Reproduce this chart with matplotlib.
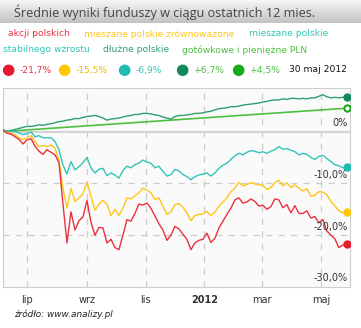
import numpy as np
import pandas as pd
import matplotlib
matplotlib.use("Agg")
import matplotlib.pyplot as plt

# sampled every ~4 days, 6 Jun 2011 .. 28 May 2012
akcje = [0.3, -0.3, -0.5, -1.0, -1.5, -2.4, -1.6, -1.4, -2.8, -3.8, -4.4, -3.5, -4.0, -4.5, -6.0,
         -14.0, -21.5, -15.5, -19.0, -17.2, -16.5, -13.3, -17.5, -20.0, -18.5, -18.6, -21.5, -20.8,
         -22.4, -22.8, -20.0, -17.0, -17.3, -15.8, -14.0, -14.2, -13.8, -14.8, -16.3, -17.8, -19.0,
         -21.0, -20.0, -18.3, -18.8, -19.8, -20.8, -22.8, -21.5, -21.0, -20.8, -19.6, -21.4, -20.6,
         -18.6, -17.3, -16.0, -14.8, -13.2, -12.8, -13.8, -13.6, -13.0, -13.5, -14.4, -14.2, -15.0,
         -14.5, -13.0, -13.2, -14.7, -14.1, -15.7, -14.3, -15.8, -15.8, -15.3, -16.7, -16.4, -17.6,
         -17.0, -19.2, -20.0, -20.7, -22.4, -21.9, -21.7]
zrownowazone = [0.3, -0.2, -0.4, -0.6, -1.2, -1.6, -1.2, -0.8, -2.0, -2.9, -2.7, -2.9, -2.6, -3.2, -5.5,
                -11.0, -14.8, -11.0, -13.5, -12.8, -12.0, -9.8, -12.5, -15.2, -14.0, -13.3, -14.0, -16.2,
                -15.0, -16.2, -14.8, -12.8, -13.0, -12.4, -11.8, -10.9, -11.3, -11.8, -13.1, -12.8, -14.4,
                -16.0, -15.5, -14.1, -13.9, -14.6, -15.7, -17.2, -16.2, -16.0, -15.9, -15.4, -16.2, -15.6,
                -14.4, -13.6, -12.8, -11.6, -10.9, -9.8, -10.5, -10.2, -9.9, -10.1, -10.3, -10.3, -11.2,
                -10.8, -9.9, -9.4, -10.5, -9.9, -10.8, -10.3, -10.9, -11.5, -11.0, -12.5, -12.3, -11.6,
                -11.7, -12.2, -13.5, -14.3, -15.3, -15.7, -15.5]
stabilne = [0.3, 0.0, 0.0, 0.0, -0.3, -0.6, -0.4, -0.1, -1.0, -0.8, -1.2, -1.2, -1.2, -1.9, -3.5,
            -6.5, -8.2, -5.8, -7.4, -6.8, -6.0, -5.0, -7.0, -8.0, -7.3, -7.1, -8.5, -8.0,
            -8.4, -9.0, -7.5, -6.7, -7.0, -6.4, -6.1, -5.5, -5.9, -6.1, -7.0, -6.7, -7.7,
            -8.6, -8.3, -7.3, -7.6, -8.3, -8.7, -9.3, -8.7, -8.4, -8.2, -8.0, -8.6, -8.0,
            -7.1, -6.5, -6.1, -5.4, -4.7, -4.2, -4.5, -4.0, -3.7, -3.8, -4.1, -3.9, -4.2,
            -3.8, -3.5, -2.9, -3.4, -3.3, -3.6, -3.9, -4.5, -4.2, -4.4, -5.0, -5.4, -4.8,
            -4.6, -5.2, -5.8, -6.4, -6.6, -7.0, -6.9]
dluzne = [0.3, 0.1, 0.2, 0.4, 0.6, 0.8, 1.0, 1.0, 1.1, 1.3, 1.2, 1.4, 1.5, 1.7, 1.9,
          2.0, 2.2, 2.3, 2.5, 2.5, 2.7, 2.9, 3.0, 3.1, 2.9, 2.6, 2.2, 2.4,
          2.5, 2.6, 2.8, 3.0, 3.1, 3.3, 3.3, 3.5, 3.5, 3.4, 3.2, 3.1, 2.8,
          2.6, 2.4, 2.9, 3.1, 3.1, 3.2, 3.3, 3.5, 3.5, 3.6, 3.8, 3.9, 4.2,
          4.4, 4.5, 4.6, 4.8, 4.8, 4.9, 5.1, 5.2, 5.3, 5.4, 5.5, 5.7, 5.8,
          6.0, 6.1, 6.1, 6.3, 6.2, 6.4, 6.4, 6.3, 6.4, 6.3, 6.5, 6.5, 6.8,
          7.1, 6.7, 6.5, 6.6, 6.5, 6.6, 6.7]
gotowkowe = [0.0, 0.05, 0.1, 0.15, 0.2, 0.26, 0.31, 0.36, 0.42, 0.47, 0.52, 0.57, 0.63, 0.68, 0.73,
             0.78, 0.84, 0.89, 0.94, 0.99, 1.05, 1.1, 1.15, 1.2, 1.26, 1.31, 1.36, 1.41,
             1.47, 1.52, 1.57, 1.62, 1.67, 1.73, 1.78, 1.83, 1.88, 1.94, 1.99, 2.04, 2.09,
             2.15, 2.2, 2.25, 2.3, 2.36, 2.41, 2.46, 2.51, 2.56, 2.62, 2.67, 2.72, 2.77,
             2.83, 2.88, 2.93, 2.98, 3.04, 3.09, 3.14, 3.19, 3.24, 3.3, 3.35, 3.4, 3.45,
             3.51, 3.56, 3.61, 3.66, 3.72, 3.77, 3.82, 3.87, 3.93, 3.98, 4.03, 4.08, 4.13,
             4.19, 4.24, 4.29, 4.34, 4.4, 4.45, 4.5]

dates = pd.date_range("2011-06-06", "2012-05-28", periods=len(akcje))

legend_names = ["akcji polskich", "mieszane polskie zrównoważone", "mieszane polskie",
                "stabilnego wzrostu", "dłużne polskie", "gotówkowe i pieniężne PLN"]
results = ["-21,7%", "-15,5%", "-6,9%", "+6,7%", "+4,5%"]
tick_dates = ["2011-07-01", "2011-09-01", "2011-11-01", "2012-01-01", "2012-03-01", "2012-05-01"]
tick_labels = ["lip", "wrz", "lis", "2012", "mar", "maj"]
y_levels = [0, -10, -20, -30]
y_labels = ["0%", "-10,0%", "-20,0%", "-30,0%"]

c_red = "#e8323f"
c_yel = "#ffc61a"
c_teal = "#33c4b7"
c_dgr = "#2f9e70"
c_gr = "#4cc040"

W, H = 361, 328
fig = plt.figure(figsize=(W/100, H/100), dpi=100)
fig.patch.set_facecolor("white")

# title bar
tb = fig.add_axes([0, 1-23/H, 1, 23/H])
grad = np.linspace(0, 1, 50).reshape(-1, 1)
tb.imshow(grad, aspect="auto", cmap=matplotlib.colors.LinearSegmentedColormap.from_list("g", ["#f6f6f6", "#c2c2c2"]),
          extent=[0, 1, 0, 1])
tb.set_axis_off()
fig.text(14/W, 1-12/H, "Średnie wyniki funduszy w ciągu ostatnich 12 mies.", fontsize=9.1,
         family="Open Sans", color="#444444", va="center", ha="left")

# legend names
fsl = 6.6
fig.text(8/W, 1-34/H, legend_names[0], color=c_red, fontsize=fsl, va="center")
fig.text(84/W, 1-34/H, legend_names[1], color=c_yel, fontsize=fsl, va="center")
fig.text(249/W, 1-34/H, legend_names[2], color=c_teal, fontsize=fsl, va="center")
fig.text(3/W, 1-50/H, legend_names[3], color=c_teal, fontsize=fsl, va="center")
fig.text(103/W, 1-50/H, legend_names[4], color=c_dgr, fontsize=fsl, va="center")
fig.text(182/W, 1-50/H, legend_names[5], color=c_gr, fontsize=fsl, va="center")

# dot row
dot_x = [8, 64, 124, 182, 238]
dot_c = ["#e8192c", "#ffc800", "#1dbcb0", "#138a5a", "#19aa19"]
txt_c = [c_red, "#f2b800", c_teal, c_gr, c_gr]
for dx, dc, tc, r in zip(dot_x, dot_c, txt_c, results):
    fig.text(dx/W, 1-70/H, "●", color=dc, fontsize=11, ha="center", va="center")
    fig.text((dx+12)/W, 1-70/H, r, color=tc, fontsize=fsl, va="center")
fig.text(347/W, 1-70/H, "30 maj 2012", color="#111111", fontsize=fsl, va="center", ha="right")

# main plot
ax = fig.add_axes([3/W, 1-287/H, 346.5/W, 199/H])
ax.set_facecolor("#fafafa")
for s in ax.spines.values():
    s.set_color("#cfcfcf")
ax.set_xlim(pd.Timestamp("2011-06-06"), pd.Timestamp("2012-05-30 18:00"))
ax.set_ylim(-30, 8.4)

for td in tick_dates:
    ax.axvline(pd.Timestamp(td), color="#cccccc", lw=0.9, ls=(0, (5, 5)), zorder=1)
for yl in [-10, -20]:
    ax.axhline(yl, color="#cccccc", lw=0.9, ls=(0, (5, 5)), zorder=1)
ax.axhline(0, color="#d4d4d4", lw=1.6, zorder=1)

lw = 1.0
ax.plot(dates, gotowkowe, color=c_gr, lw=lw+0.2, zorder=3)
ax.plot(dates, dluzne, color=c_dgr, lw=lw, zorder=3)
ax.plot(dates, stabilne, color=c_teal, lw=lw, zorder=3)
ax.plot(dates, zrownowazone, color=c_yel, lw=lw, zorder=4)
ax.plot(dates, akcje, color=c_red, lw=lw, zorder=5)

ax.plot(dates[-1], akcje[-1], "o", color="#e8192c", ms=5, zorder=6)
ax.plot(dates[-1], zrownowazone[-1], "o", color="#ffc800", ms=5, zorder=6)
ax.plot(dates[-1], stabilne[-1], "o", color="#1dbcb0", ms=5, zorder=6)
ax.plot(dates[-1], dluzne[-1], "o", color="#138a5a", ms=5, zorder=6)
ax.plot(dates[-1], gotowkowe[-1], "o", mfc="white", mec="#19aa19", mew=1.5, ms=4.5, zorder=6)

for yv, lab in zip(y_levels, y_labels):
    ax.text(0.994, yv + 0.7, lab, transform=ax.get_yaxis_transform(), ha="right", va="bottom",
            fontsize=7, color="#333333", zorder=7)

ax.set_xticks([pd.Timestamp(t) for t in tick_dates])
ax.set_xticklabels(tick_labels, fontsize=7, color="#333333")
ax.get_xticklabels()[3].set_fontweight("bold")
ax.tick_params(axis="x", length=0, pad=6)
ax.set_yticks([])

fig.text(14/W, 1-314/H, "źródło: www.analizy.pl", fontsize=6.4, style="italic", color="#222222",
         va="center", ha="left")

fig.savefig("out.png", dpi=100)
